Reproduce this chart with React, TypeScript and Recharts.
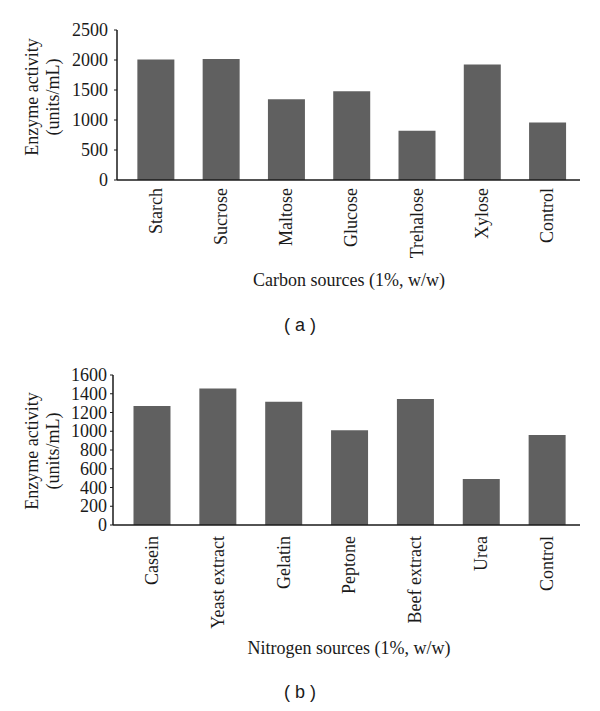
import React from "react";
import { BarChart, Bar, XAxis, YAxis } from "recharts";

const carbonSources = ["Starch", "Sucrose", "Maltose", "Glucose", "Trehalose", "Xylose", "Control"];
const carbonActivity = [2010, 2015, 1345, 1480, 820, 1925, 960];
const carbonTicks = [0, 500, 1000, 1500, 2000, 2500];

const nitrogenSources = ["Casein", "Yeast extract", "Gelatin", "Peptone", "Beef extract", "Urea", "Control"];
const nitrogenActivity = [1270, 1455, 1315, 1010, 1345, 490, 960];
const nitrogenTicks = [0, 200, 400, 600, 800, 1000, 1200, 1400, 1600];

const SERIF = '"Liberation Serif", "Times New Roman", serif';
const BAR = "#606060";
const INK = "#1a1a1a";

const carbonData = carbonSources.map((name, i) => ({ name, value: carbonActivity[i] }));
const nitrogenData = nitrogenSources.map((name, i) => ({ name, value: nitrogenActivity[i] }));

// rotated category label, reading bottom-to-top
const RotTick = (props: any) => {
  const { x, y, payload } = props;
  return (
    <text
      x={x}
      y={y}
      transform={`rotate(-90, ${x}, ${y})`}
      textAnchor="end"
      dy="0.33em"
      fontSize={18}
      style={{ fontFamily: SERIF }}
      fill={INK}
    >
      {payload.value}
    </text>
  );
};

const NumTick = (props: any) => {
  const { x, y, payload } = props;
  return (
    <text x={x} y={y} dy="0.34em" textAnchor="end" fontSize={18} style={{ fontFamily: SERIF }} fill={INK}>
      {payload.value}
    </text>
  );
};

const yTitle = (cy: number) => () => (
  <text textAnchor="middle" fontSize={18} style={{ fontFamily: SERIF }} fill={INK} transform="rotate(-90, 0, 0)">
    <tspan x={-cy} y={38}>Enzyme activity</tspan>
    <tspan x={-cy} y={59}>(units/mL)</tspan>
  </text>
);

const xTitle = (text: string, cx: number, cy: number) => () => (
  <text x={cx} y={cy} dy="0.35em" textAnchor="middle" fontSize={18} style={{ fontFamily: SERIF }} fill={INK}>
    {text}
  </text>
);

const panelLabel: React.CSSProperties = {
  position: "absolute",
  left: 0,
  width: 600,
  textAlign: "center",
  fontFamily: '"Liberation Sans", Arial, sans-serif',
  fontSize: 18,
  color: INK,
};

export default function App() {
  return (
    <div style={{ position: "absolute", left: 0, top: 0, width: 600, height: 711, background: "#fff", fontFamily: SERIF }}>
      <div style={{ position: "absolute", left: 0, top: 0 }}>
        <BarChart width={600} height={300} data={carbonData} margin={{ top: 30, right: 20, bottom: 0, left: 0 }} barCategoryGap="22%">
          <XAxis
            dataKey="name"
            interval={0}
            height={120}
            tickLine={false}
            tickSize={0}
            tickMargin={8}
            padding={{ left: 6 }}
            axisLine={{ stroke: INK, strokeWidth: 1.5 }}
            tick={<RotTick />}
            label={{ content: xTitle("Carbon sources (1%, w/w)", 349, 280) }}
          />
          <YAxis
            width={117}
            domain={[0, 2500]}
            ticks={carbonTicks}
            interval={0}
            tickSize={3}
            tickMargin={6}
            axisLine={{ stroke: INK, strokeWidth: 1.5 }}
            tickLine={{ stroke: INK }}
            tick={<NumTick />}
            label={{ content: yTitle(97) }}
          />
          <Bar dataKey="value" fill={BAR} isAnimationActive={false} />
        </BarChart>
      </div>
      <div style={{ ...panelLabel, top: 315 }}>( a )</div>

      <div style={{ position: "absolute", left: 0, top: 345 }}>
        <BarChart width={600} height={330} data={nitrogenData} margin={{ top: 30, right: 20, bottom: 0, left: 0 }} barCategoryGap="22%">
          <XAxis
            dataKey="name"
            interval={0}
            height={150}
            tickLine={false}
            tickSize={0}
            tickMargin={11}
            padding={{ left: 6 }}
            axisLine={{ stroke: INK, strokeWidth: 1.5 }}
            tick={<RotTick />}
            label={{ content: xTitle("Nitrogen sources (1%, w/w)", 349, 303) }}
          />
          <YAxis
            width={113}
            domain={[0, 1600]}
            ticks={nitrogenTicks}
            interval={0}
            tickSize={3}
            tickMargin={3}
            axisLine={{ stroke: INK, strokeWidth: 1.5 }}
            tickLine={{ stroke: INK }}
            tick={<NumTick />}
            label={{ content: yTitle(106) }}
          />
          <Bar dataKey="value" fill={BAR} isAnimationActive={false} />
        </BarChart>
      </div>
      <div style={{ ...panelLabel, top: 682 }}>( b )</div>
    </div>
  );
}
